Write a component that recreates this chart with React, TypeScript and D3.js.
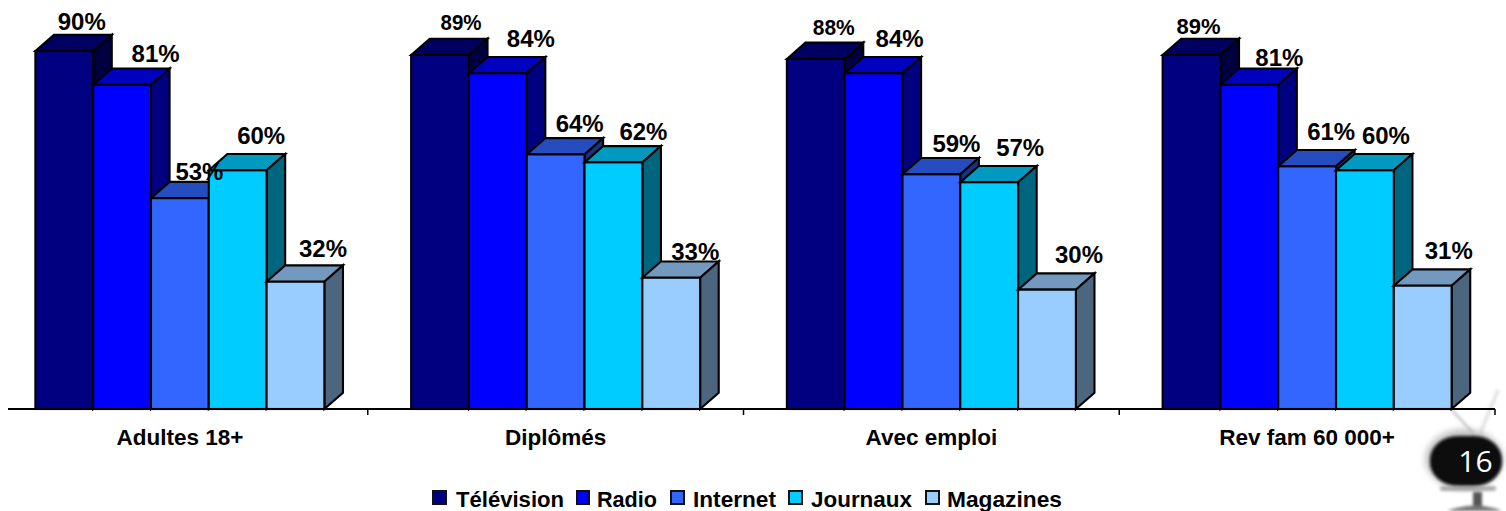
import React from "react";
import * as d3 from "d3";

const categories = ["Adultes 18+", "Diplômés", "Avec emploi", "Rev fam 60 000+"];
const seriesNames = ["Télévision", "Radio", "Internet", "Journaux", "Magazines"];
const seriesColors = ["#000080", "#0000FF", "#3366FF", "#00CCFF", "#99CCFF"];
// heights
const adultes = [90, 81.5, 53, 60, 32];
const diplomes = [89, 84.4, 64, 62, 33];
const emploi = [88, 84.4, 59, 57, 30];
const revenu = [89, 81.5, 61, 60, 31];
// printed labels
const adultesLabels = ["90%", "81%", "53%", "60%", "32%"];
const diplomesLabels = ["89%", "84%", "64%", "62%", "33%"];
const emploiLabels = ["88%", "84%", "59%", "57%", "30%"];
const revenuLabels = ["89%", "81%", "61%", "60%", "31%"];
const values = [adultes, diplomes, emploi, revenu];
const labels = [adultesLabels, diplomesLabels, emploiLabels, revenuLabels];
// hand placement of labels relative to their bars, as in the source
const labelDx = [[17.5, 33.5, 19.5, 23.5, 27.5], [21, 33, 24, 30, 24], [18, 26, 25, 31, 32], [7, 30, 24, 21, 26]];
const labelDy = [[-21, -23, -18, -26, -25], [-25, -26, -22, -22, -18], [-24, -26, -22, -26, -27], [-21, -19, -26, -26, -27]];
const labelWidths = [[48, 48, 48, 48, 48], [41, 48, 48, 48, 48], [42, 48, 48, 48, 48], [44, 48, 48, 48, 48]];

const W = 1506, H = 511;
const FONT = "'Liberation Sans', Arial, sans-serif";
const base = 409;
const y = d3.scaleLinear().domain([0, 90]).range([base, 51]);
const x0 = d3.scaleBand().domain(categories).range([-8, 1495]);
const barW = 57.8;
const x1 = d3.scaleBand().domain(seriesNames).range([0, barW * 5]);
const depthX = 18.6, depthY = 16.3;

const legendItems = [
  { sx: 433, sw: 13, tx: 456, w: 108 },
  { sx: 577, sw: 12, tx: 597, w: 60 },
  { sx: 671, sw: 13, tx: 693, w: 83 },
  { sx: 789, sw: 13, tx: 811, w: 101 },
  { sx: 926, sw: 13, tx: 947, w: 115 },
];

function Bar({ xp, v, color }: { xp: number; v: number; color: string }) {
  const t = y(v);
  const c = d3.rgb(color);
  const side = d3.rgb(c.r * 0.5, c.g * 0.5, c.b * 0.5).formatHex();
  const topc = d3.rgb(c.r * 0.75, c.g * 0.75, c.b * 0.75).formatHex();
  const pathTop = d3.path();
  pathTop.moveTo(xp, t);
  pathTop.lineTo(xp + depthX, t - depthY);
  pathTop.lineTo(xp + barW + depthX, t - depthY);
  pathTop.lineTo(xp + barW, t);
  pathTop.closePath();
  const pathSide = d3.path();
  pathSide.moveTo(xp + barW, t);
  pathSide.lineTo(xp + barW + depthX, t - depthY);
  pathSide.lineTo(xp + barW + depthX, base - depthY);
  pathSide.lineTo(xp + barW, base);
  pathSide.closePath();
  return (
    <g stroke="#000" strokeWidth={2.1} strokeLinejoin="miter">
      <path d={pathTop.toString()} fill={topc} />
      <path d={pathSide.toString()} fill={side} />
      <rect x={xp} y={t} width={barW} height={base - t} fill={color} />
    </g>
  );
}

function Tv() {
  return (
    <g>
      <defs>
        <filter id="soft" x="-30%" y="-30%" width="160%" height="160%">
          <feGaussianBlur stdDeviation="1.4" />
        </filter>
        <filter id="softer" x="-30%" y="-30%" width="160%" height="160%">
          <feGaussianBlur stdDeviation="3" />
        </filter>
      </defs>
      <g filter="url(#soft)">
        <line x1={1474} y1={434} x2={1452} y2={410} stroke="#c4c4c4" strokeWidth={2.5} />
        <line x1={1480} y1={434} x2={1498} y2={390} stroke="#e2e2e2" strokeWidth={3.5} />
      </g>
      <ellipse cx={1464} cy={459} rx={39} ry={30} fill="#aaa" filter="url(#softer)" opacity={0.7} />
      <rect x={1430} y={436} width={72} height={50} rx={28} ry={24} fill="#0a0a0a" filter="url(#soft)" />
      <g filter="url(#soft)">
        <rect x={1440} y={486} width={56} height={5} rx={2} fill="#8a8a8a" opacity={0.7} />
        <rect x={1473} y={492} width={9} height={16} fill="#555" />
        <path d="M1447 511 Q1476 500 1502 511 Z" fill="#777" />
      </g>
      <text x={1475.5} y={472} fontFamily="'Open Sans', sans-serif" fontSize={30} textAnchor="middle" fill="#fff">16</text>
    </g>
  );
}

export default function App() {
  return (
    <svg width={W} height={H} viewBox={`0 0 ${W} ${H}`} style={{ position: "absolute", left: 0, top: 0, background: "#fff" }}>
      <Tv />
      <line x1={8} x2={1495} y1={base} y2={base} stroke="#000" strokeWidth={2} />
      {categories.map((cat, i) => {
        const bx = x0(cat)! + x0.bandwidth() / 2 - barW * 2.5;
        const tick = x0(cat)! + x0.bandwidth();
        return (
          <g key={cat}>
            <line x1={tick} x2={tick} y1={base} y2={base + 6} stroke="#000" strokeWidth={1.5} />
            <text x={x0(cat)! + x0.bandwidth() / 2} y={445} textAnchor="middle" fontFamily={FONT} fontWeight="bold" fontSize={22.5}>{cat}</text>
            {seriesNames.map((s, j) => (
              <Bar key={s} xp={bx + x1(s)!} v={values[i][j]} color={seriesColors[j]} />
            ))}
          </g>
        );
      })}
      {categories.map((cat, i) => {
        const bx = x0(cat)! + x0.bandwidth() / 2 - barW * 2.5;
        return seriesNames.map((s, j) => (
          <text key={s} x={bx + x1(s)! + barW / 2 + labelDx[i][j]} y={y(values[i][j]) + labelDy[i][j]} textAnchor="middle" fontFamily={FONT} fontWeight="bold" fontSize={labelWidths[i][j] === 48 ? 23.5 : 21.5} textLength={labelWidths[i][j]} lengthAdjust="spacingAndGlyphs" fill="#000">
            {labels[i][j]}
          </text>
        ));
      })}
      {seriesNames.map((s, j) => {
        const it = legendItems[j];
        return (
          <g key={s}>
            <rect x={it.sx} y={491} width={it.sw} height={13} fill={seriesColors[j]} stroke="#111" strokeWidth={2} />
            <text x={it.tx} y={507} fontFamily={FONT} fontWeight="bold" fontSize={21.5} textLength={it.w} lengthAdjust="spacingAndGlyphs">{s}</text>
          </g>
        );
      })}
    </svg>
  );
}
